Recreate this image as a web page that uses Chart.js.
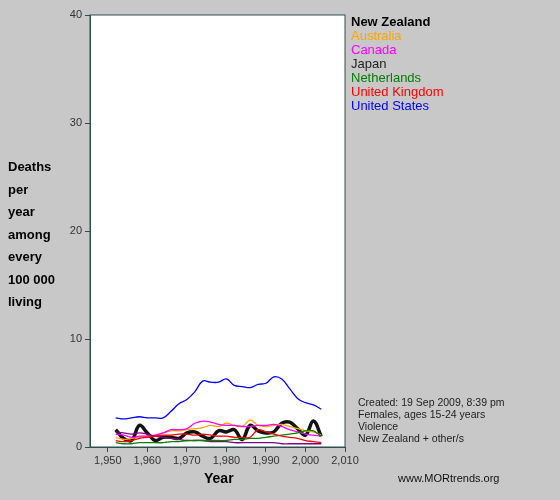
<!DOCTYPE html><html><head><script src="https://cdn.jsdelivr.net/npm/chart.js@4"></script>
<style>body{margin:0;background:#c8c8c8;font-family:Arial,"Liberation Sans",sans-serif}
#w{position:relative;width:560px;height:500px}
.t{position:absolute;white-space:nowrap}
</style></head><body><div id="w"><canvas id="c" width="560" height="500"></canvas>
<div class="t" style="left:8px;top:156px;font-weight:bold;font-size:13px;line-height:22.5px">Deaths<br>per<br>year<br>among<br>every<br>100 000<br>living</div>
<div class="t" style="left:204px;top:470px;font-weight:bold;font-size:14px">Year</div>
<div id="leg" class="t" style="left:351px;top:15px;font-size:13px;line-height:14px"></div>
<div class="t" style="left:358px;top:396px;font-size:10.5px;line-height:12px;color:#222">Created: 19 Sep 2009, 8:39 pm<br>Females, ages 15-24 years<br>Violence<br>New Zealand + other/s</div>
<div class="t" style="left:398px;top:472px;font-size:11px;color:#111">www.MORtrends.org</div>
</div>
<script>
const years=[1952,1954,1956,1958,1960,1962,1964,1966,1968,1970,1972,1974,1976,1978,1980,1982,1984,1986,1988,1990,1992,1994,1996,1998,2000,2002,2004];
const newZealand=[1.6,0.8,0.6,2.0,1.3,0.6,0.9,0.9,0.8,1.3,1.4,1.0,0.8,1.5,1.4,1.6,0.7,2.0,1.5,1.3,1.4,2.2,2.3,1.7,1.1,2.4,1.0];
const australia=[0.9,0.7,0.8,0.9,1.0,1.1,1.3,1.5,1.5,1.6,1.7,1.8,2.0,1.9,2.2,2.0,1.9,2.5,2.0,1.9,2.0,2.1,1.9,1.7,1.5,1.4,1.1];
const canada=[1.2,1.1,0.9,1.0,1.0,1.1,1.3,1.6,1.6,1.7,2.2,2.4,2.3,2.1,2.0,2.0,1.9,1.9,2.0,2.0,2.1,1.9,1.6,1.4,1.2,1.1,1.0];
const japan=[1.4,1.3,1.2,1.3,1.2,1.0,0.9,0.8,0.7,0.6,0.6,0.6,0.5,0.5,0.5,0.4,0.4,0.4,0.4,0.4,0.4,0.3,0.3,0.3,0.3,0.3,0.3];
const netherlands=[0.4,0.3,0.3,0.4,0.4,0.4,0.4,0.5,0.5,0.6,0.6,0.6,0.6,0.6,0.6,0.7,0.7,0.8,0.8,0.9,1.0,1.1,1.2,1.3,1.5,1.5,1.0];
const unitedKingdom=[0.6,0.5,0.6,0.8,0.9,1.0,1.1,1.1,1.2,1.2,1.1,1.2,1.1,1.0,1.0,0.9,0.9,0.9,1.6,1.4,1.2,1.0,0.9,0.8,0.6,0.5,0.4];
const unitedStates=[2.7,2.6,2.7,2.8,2.7,2.7,2.7,3.3,4.0,4.4,5.1,6.1,6.0,6.0,6.3,5.7,5.6,5.5,5.8,5.9,6.5,6.3,5.4,4.5,4.1,3.9,3.5];
const xTicks=[1950,1960,1970,1980,1990,2000,2010];
const yTicks=[0,10,20,30,40];
const series=[
 ["New Zealand",newZealand,"#111","#000",3.5,true],
 ["Australia",australia,"orange","orange",1.3],
 ["Canada",canada,"magenta","magenta",1.3],
 ["Japan",japan,"#800080","#222",1.3],
 ["Netherlands",netherlands,"green","green",1.3],
 ["United Kingdom",unitedKingdom,"red","red",1.3],
 ["United States",unitedStates,"blue","blue",1.3]];
document.getElementById('leg').innerHTML=series.map(s=>`<div style="color:${s[3]};${s[5]?'font-weight:bold':''}">${s[0]}</div>`).join('');
const ds=series.slice().reverse().map(s=>({label:s[0],data:years.map((y,i)=>({x:y,y:s[1][i]})),borderColor:s[2],borderWidth:s[4],pointRadius:0,tension:0.4,fill:false}));
const tc='#2f4f4f';
new Chart(document.getElementById('c'),{type:'line',data:{datasets:ds},
options:{responsive:false,animation:false,layout:{padding:{left:0,right:215,top:15,bottom:0}},
plugins:{legend:{display:false},tooltip:{enabled:false}},
scales:{
x:{type:'linear',min:1945.5,max:2010,afterBuildTicks:a=>{a.ticks=xTicks.map(v=>({value:v}))},afterFit:s=>{s.height=53},
 grid:{drawOnChartArea:false,tickLength:5,color:tc},border:{color:tc},ticks:{color:'#333',font:{size:11},padding:2,maxRotation:0}},
y:{min:0,max:40,afterBuildTicks:a=>{a.ticks=yTicks.map(v=>({value:v}))},afterFit:s=>{s.width=90},
 grid:{drawOnChartArea:false,tickLength:5,color:tc},border:{color:tc},ticks:{color:'#333',font:{size:11},padding:3}}}},
plugins:[{id:'bg',beforeDraw:c=>{const a=c.chartArea,x=c.ctx;x.fillStyle='#fff';x.fillRect(a.left,a.top,a.right-a.left,a.bottom-a.top);x.strokeStyle=tc;x.strokeRect(a.left,a.top,a.right-a.left,a.bottom-a.top)}}]});
</script></body></html>
